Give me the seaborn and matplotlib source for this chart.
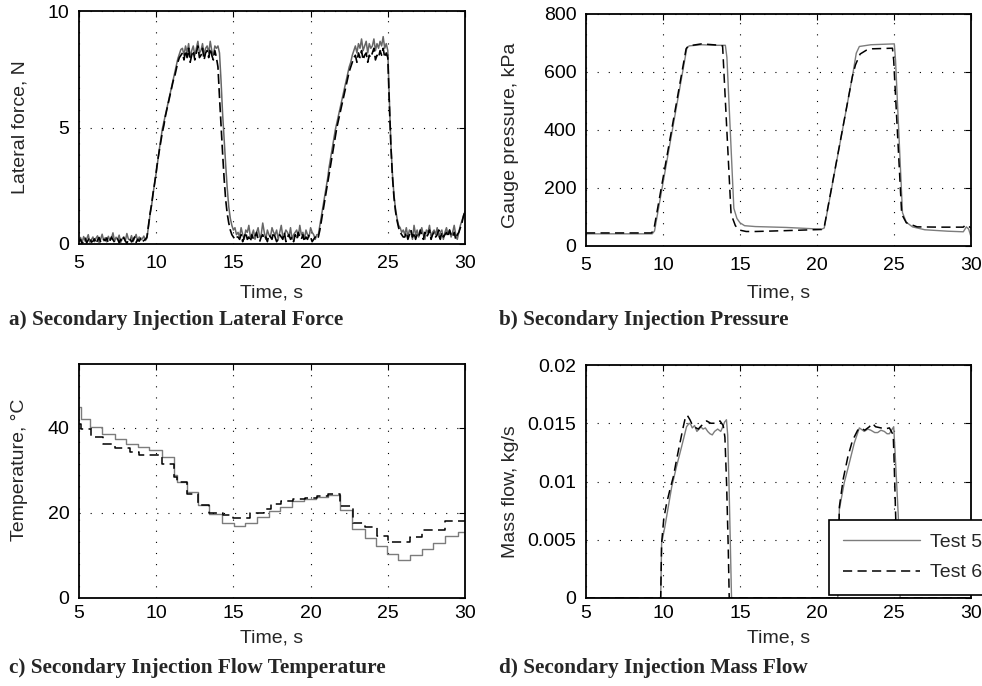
import numpy as np
import matplotlib
matplotlib.use("Agg")
import matplotlib.pyplot as plt
import seaborn as sns

# ---------------- a) Lateral force (sampled every 0.1 s, 5 s .. 30 s) ----------------
force_t0 = 5.0
force_dt = 0.1
force_test5 = [
    # 5.0 - 9.3 s baseline
    0.15, 0.28, 0.05, 0.32, 0.12, 0.22, 0.40, 0.08, 0.18, 0.30,
    0.10, 0.25, 0.35, 0.06, 0.20, 0.42, 0.14, 0.27, 0.09, 0.33,
    0.17, 0.24, 0.48, 0.11, 0.29, 0.19, 0.38, 0.07, 0.23, 0.31,
    0.13, 0.45, 0.21, 0.16, 0.36, 0.10, 0.26, 0.41, 0.12, 0.30,
    0.18, 0.22, 0.34, 0.15,
    # 9.4 - 11.6 s rise
    0.25, 0.75, 1.25, 1.65, 2.15, 2.65, 3.05, 3.55, 4.05, 4.5,
    4.95, 5.25, 5.55, 5.85, 6.15, 6.45, 6.75, 7.05, 7.35, 7.65,
    7.95, 8.15, 8.35,
    # 11.7 - 13.9 s plateau
    8.4, 8.1, 8.5, 8.2, 8.6, 8.0, 8.3, 8.5, 8.1, 8.4,
    8.7, 8.2, 8.3, 8.6, 8.1, 8.4, 8.5, 8.2, 8.7, 8.3,
    8.1, 8.5, 8.4,
    # 14.0 - 15.2 s fall
    8.5, 8.2, 7.0, 5.6, 4.5, 3.4, 2.4, 1.6, 1.1, 0.8, 0.6, 0.7, 0.4,
    # 15.3 - 20.4 s baseline
    0.5, 0.3, 0.7, 0.4, 0.2, 0.6, 0.5, 0.8, 0.3, 0.4,
    0.6, 0.2, 0.5, 0.7, 0.3, 0.4, 0.9, 0.5, 0.2, 0.6,
    0.4, 0.3, 0.7, 0.5, 0.4, 0.6, 0.2, 0.5, 0.8, 0.3,
    0.4, 0.6, 0.5, 0.3, 0.7, 0.2, 0.4, 0.5, 0.6, 0.3,
    0.8, 0.4, 0.5, 0.2, 0.6, 0.4, 0.3, 0.7, 0.5, 0.4,
    0.2, 0.4,
    # 20.5 - 22.8 s rise
    0.4, 0.8, 1.2, 1.6, 2.0, 2.4, 2.8, 3.3, 3.7, 4.1,
    4.5, 4.9, 5.2, 5.5, 5.8, 6.1, 6.4, 6.7, 7.0, 7.3,
    7.6, 7.8, 8.1, 8.3,
    # 22.9 - 25.0 s plateau
    8.5, 8.2, 8.6, 8.4, 8.8, 8.3, 8.5, 8.7, 8.2, 8.6,
    8.4, 8.5, 8.8, 8.3, 8.6, 8.4, 8.7, 8.5, 8.9, 8.4,
    8.6, 8.3,
    # 25.1 - 26.0 s fall
    6.2, 4.3, 3.0, 2.1, 1.5, 1.1, 0.8, 0.7, 0.5, 0.6,
    # 26.1 - 29.5 s baseline
    0.4, 0.7, 0.3, 0.6, 0.5, 0.2, 0.8, 0.4, 0.6, 0.3,
    0.5, 0.7, 0.4, 0.2, 0.6, 0.5, 0.8, 0.3, 0.5, 0.6,
    0.4, 0.7, 0.3, 0.5, 0.6, 0.2, 0.5, 0.7, 0.4, 0.6,
    0.3, 0.5, 0.8, 0.4, 0.2,
    # 29.6 - 30.0 s
    0.5, 0.8, 1.0, 1.2, 1.4,
]
force_test6 = [
    # 5.0 - 9.3 s baseline
    0.10, 0.20, 0.00, 0.15, 0.25, 0.05, 0.18, 0.30, 0.08, 0.12,
    0.22, 0.02, 0.16, 0.28, 0.10, 0.06, 0.20, 0.14, 0.26, 0.04,
    0.12, 0.30, 0.18, 0.08, 0.15, 0.22, 0.05, 0.20, 0.10, 0.27,
    0.13, 0.03, 0.18, 0.24, 0.09, 0.16, 0.30, 0.07, 0.20, 0.12,
    0.25, 0.10, 0.15, 0.20,
    # 9.4 - 11.6 s rise
    0.3, 0.8, 1.3, 1.7, 2.2, 2.6, 3.1, 3.6, 4.0, 4.4,
    4.8, 5.1, 5.5, 5.8, 6.1, 6.4, 6.7, 7.0, 7.2, 7.5,
    7.8, 8.0, 8.1,
    # 11.7 - 13.9 s plateau
    8.2, 7.9, 8.3, 8.0, 8.4, 7.8, 8.1, 8.3, 7.9, 8.2,
    8.5, 8.0, 8.1, 8.4, 7.9, 8.2, 8.3, 8.0, 8.4, 8.1,
    7.9, 8.3, 8.0,
    # 14.0 - 15.2 s fall
    7.6, 6.3, 5.1, 3.9, 2.8, 1.9, 1.3, 0.9, 0.6, 0.4, 0.3, 0.2, 0.3,
    # 15.3 - 20.4 s baseline
    0.3, 0.2, 0.4, 0.1, 0.3, 0.5, 0.2, 0.3, 0.1, 0.4,
    0.2, 0.3, 0.5, 0.2, 0.1, 0.3, 0.4, 0.2, 0.3, 0.1,
    0.4, 0.3, 0.2, 0.5, 0.3, 0.1, 0.2, 0.4, 0.3, 0.2,
    0.5, 0.1, 0.3, 0.4, 0.2, 0.3, 0.1, 0.4, 0.2, 0.5,
    0.3, 0.2, 0.4, 0.1, 0.3, 0.2, 0.4, 0.3, 0.1, 0.2,
    0.3, 0.2,
    # 20.5 - 22.8 s rise
    0.3, 0.6, 1.0, 1.4, 1.8, 2.2, 2.6, 3.0, 3.4, 3.8,
    4.2, 4.6, 5.0, 5.3, 5.6, 5.9, 6.2, 6.5, 6.8, 7.1,
    7.4, 7.6, 7.8, 8.0,
    # 22.9 - 25.0 s plateau
    8.1, 7.8, 8.2, 8.0, 8.3, 7.9, 8.1, 8.2, 7.8, 8.1,
    8.0, 8.2, 8.4, 7.9, 8.1, 8.0, 8.3, 8.1, 8.4, 8.0,
    8.2, 8.0,
    # 25.1 - 26.0 s fall
    6.0, 4.2, 2.9, 2.0, 1.4, 1.0, 0.7, 0.5, 0.4, 0.3,
    # 26.1 - 29.5 s baseline
    0.3, 0.5, 0.2, 0.4, 0.6, 0.3, 0.5, 0.2, 0.4, 0.3,
    0.6, 0.4, 0.2, 0.5, 0.3, 0.4, 0.6, 0.2, 0.4, 0.5,
    0.3, 0.4, 0.6, 0.2, 0.5, 0.3, 0.4, 0.5, 0.3, 0.6,
    0.4, 0.3, 0.5, 0.2, 0.4,
    # 29.6 - 30.0 s
    0.5, 0.7, 0.9, 1.2, 1.4,
]

# ---------------- b) Gauge pressure, kPa ----------------
press_t5 = [5.0, 9.3, 9.45, 11.55, 11.7, 12.5, 13.5, 14.05, 14.15, 14.6, 14.8,
            15.0, 15.3, 16.0, 18.0, 20.3, 20.47, 22.3, 22.55, 22.75, 23.5, 24.5,
            25.02, 25.1, 25.55, 25.8, 26.2, 27.0, 28.5, 29.5, 29.7, 29.85, 30.0]
press_v5 = [42, 42, 52, 683, 690, 694, 692, 692, 650, 130, 95,
            80, 70, 67, 64, 58, 62, 585, 665, 688, 694, 696,
            697, 640, 115, 82, 66, 56, 51, 49, 66, 58, 32]
press_t6 = [5.0, 9.25, 9.4, 11.5, 11.65, 12.5, 13.5, 13.87, 14.42, 14.7,
            14.96, 15.4, 16.0, 18.0, 20.3, 20.45, 22.3, 22.5, 22.8, 23.2,
            23.6, 24.9, 24.98, 25.5, 25.8, 26.5, 28.0, 29.5, 29.65, 29.85, 30.0]
press_v6 = [45, 45, 55, 680, 690, 697, 693, 690, 110, 70,
            55, 50, 50, 53, 57, 60, 585, 625, 662, 675,
            680, 682, 640, 110, 80, 66, 65, 65, 73, 68, 62]

# ---------------- c) Flow temperature, degC (stepwise record) ----------------
temp_t5 = [5.0, 5.13, 5.73, 6.5, 7.3, 8.05, 8.8, 9.55, 10.35, 11.13, 11.35,
           11.97, 12.7, 13.45, 14.26, 15.02, 15.77, 16.53, 17.28, 18.03, 18.78,
           19.6, 20.35, 21.12, 21.9, 22.66, 23.52, 24.24, 24.98, 25.68, 26.44,
           27.19, 27.95, 28.7, 29.57, 30.0]
temp_v5 = [44.8, 42.0, 40.3, 38.6, 37.3, 36.3, 35.6, 34.8, 33.2, 29.0, 27.3,
           24.8, 21.8, 19.8, 17.6, 17.0, 17.6, 19.0, 20.4, 21.5, 22.7,
           23.3, 23.7, 24.1, 20.7, 16.3, 14.0, 12.2, 10.4, 9.0, 10.2,
           11.5, 12.9, 14.6, 15.6, 15.6]
temp_t6 = [5.0, 5.1, 5.75, 6.55, 7.3, 8.3, 8.9, 10.4, 11.13, 11.35, 11.97,
           12.7, 13.45, 14.3, 15.0, 16.1, 17.0, 17.45, 18.1, 18.85, 19.64,
           20.39, 21.15, 21.93, 22.72, 23.52, 24.28, 25.0, 26.44, 27.2, 28.7, 30.0]
temp_v6 = [41.0, 39.8, 37.9, 36.3, 35.2, 34.2, 33.7, 31.6, 28.5, 27.3, 24.5,
           21.8, 19.9, 19.4, 18.8, 19.9, 21.0, 22.0, 22.8, 23.3, 23.6,
           23.9, 24.4, 21.6, 17.6, 16.6, 14.5, 13.2, 14.3, 16.1, 18.2, 18.2]

# ---------------- d) Mass flow, kg/s ----------------
flow_t5 = [5.0, 9.85, 9.91, 10.12, 10.34, 10.56, 10.88, 11.21, 11.53, 11.7,
           11.8, 11.9, 12.05, 12.2, 12.35, 12.45, 12.6, 12.75, 12.9, 13.05,
           13.2, 13.35, 13.55, 13.75, 13.85, 14.0, 14.12, 14.2, 14.3, 14.4,
           14.45, 21.35, 21.45, 21.77, 22.1, 22.42, 22.75, 23.07, 23.3, 23.5,
           23.75, 23.94, 24.15, 24.37, 24.55, 24.7, 24.98, 25.07, 25.28, 25.4, 30.0]
flow_v5 = [0.0, 0.0, 0.0047, 0.0061, 0.0078, 0.0095, 0.0113, 0.0130, 0.0147, 0.0150,
           0.0149, 0.0146, 0.0148, 0.0143, 0.0145, 0.0147, 0.0145, 0.0146, 0.0143, 0.0141,
           0.0140, 0.0143, 0.0145, 0.0143, 0.0146, 0.0151, 0.0153, 0.0140, 0.0090, 0.0030,
           0.0, 0.0, 0.0076, 0.0099, 0.0116, 0.0133, 0.0146, 0.0143, 0.0145, 0.0144,
           0.0142, 0.0142, 0.0144, 0.0143, 0.0141, 0.0141, 0.0147, 0.0125, 0.0070, 0.0, 0.0]
flow_t6 = [5.0, 9.85, 9.91, 10.05, 10.23, 10.45, 10.67, 10.9, 11.1, 11.3,
           11.42, 11.57, 11.75, 11.96, 12.15, 12.29, 12.5, 12.7, 12.83, 13.1,
           13.48, 13.7, 13.91, 14.02, 14.13, 14.24, 14.3, 21.35, 21.45, 21.7,
           22.0, 22.3, 22.64, 22.85, 23.1, 23.4, 23.6, 23.8, 24.15, 24.4,
           24.7, 24.95, 25.0, 25.13, 25.3, 30.0]
flow_v6 = [0.0, 0.0, 0.0047, 0.0068, 0.0081, 0.0093, 0.0104, 0.0120, 0.0133, 0.0146,
           0.0153, 0.0157, 0.0153, 0.0147, 0.0146, 0.0145, 0.0148, 0.0150, 0.0152, 0.0150,
           0.0150, 0.0152, 0.0148, 0.0138, 0.0098, 0.0041, 0.0, 0.0, 0.0078, 0.0102,
           0.0121, 0.0135, 0.0144, 0.0146, 0.0144, 0.0147, 0.0150, 0.0147, 0.0146, 0.0145,
           0.0146, 0.0140, 0.0121, 0.0060, 0.0, 0.0]

series_labels = ["Test 5", "Test 6"]
time_ticks = [5, 10, 15, 20, 25, 30]

# ---------------- styling ----------------
sns.set_style("white")
plt.rcParams["font.family"] = ["Liberation Sans", "DejaVu Sans"]
plt.rcParams["font.size"] = 14

GRAY = "#7c7c7c"
DARK_GRAY = "#666666"
DASHED = (0, (6, 3.5))
NOISY_DASHED = (0, (6, 2.5))
TICK_FS = 14
CAPTION_FONT = dict(family=["Liberation Serif", "DejaVu Serif"], weight="bold", size=15.3)

fig = plt.figure(figsize=(9.82, 6.86), dpi=100)
W, H = 982.0, 686.0


def make_axes(left, top, right, bottom):
    return fig.add_axes([left / W, 1 - bottom / H, (right - left) / W, (bottom - top) / H])


def style_axes(ax, ylim, yticks, ytick_labels, ylabel, xpad, ylabel_xy, xlabel_y):
    ax.set_xlim(5, 30)
    ax.set_xticks(time_ticks)
    ax.set_xticklabels([str(v) for v in time_ticks])
    ax.set_ylim(*ylim)
    ax.set_yticks(yticks)
    ax.set_yticklabels(ytick_labels)
    ax.grid(True, color="black", linestyle=(0, (1, 9)), linewidth=0.8)
    ax.set_axisbelow(True)
    ax.set_xlabel("Time, s", fontsize=TICK_FS)
    ax.set_ylabel(ylabel, fontsize=TICK_FS)
    ax.xaxis.set_label_coords(0.5, xlabel_y)
    ax.xaxis.label.set_verticalalignment("center")
    ax.yaxis.set_label_coords(*ylabel_xy)
    ax.yaxis.label.set_verticalalignment("center")
    ax.tick_params(direction="in", length=4, width=0.8, top=True, right=True,
                   labelsize=TICK_FS, colors="black")
    ax.tick_params(axis="x", pad=xpad)
    ax.tick_params(axis="y", pad=7)
    for sp in ax.spines.values():
        sp.set_visible(True)
        sp.set_linewidth(1.3)
        sp.set_color("black")


# a) lateral force
ax_a = make_axes(79, 11, 465, 244)
force_time = force_t0 + force_dt * np.arange(len(force_test5))
sns.lineplot(x=force_time, y=force_test5, ax=ax_a, color=DARK_GRAY, linewidth=1.1,
             estimator=None, sort=False, legend=False)
sns.lineplot(x=force_time, y=force_test6, ax=ax_a, color="black", linewidth=1.2,
             linestyle=NOISY_DASHED, estimator=None, sort=False, legend=False)
style_axes(ax_a, (0, 10), [0, 5, 10], ["0", "5", "10"], "Lateral force, N",
           xpad=8, ylabel_xy=(-0.153, 0.5), xlabel_y=-0.21)

# b) gauge pressure
ax_b = make_axes(586, 14, 971, 246)
sns.lineplot(x=press_t5, y=press_v5, ax=ax_b, color=GRAY, linewidth=1.0,
             estimator=None, sort=False, legend=False)
sns.lineplot(x=press_t6, y=press_v6, ax=ax_b, color="black", linewidth=1.1,
             linestyle=DASHED, estimator=None, sort=False, legend=False)
style_axes(ax_b, (0, 800), [0, 200, 400, 600, 800],
           ["0", "200", "400", "600", "800"], "Gauge pressure, kPa",
           xpad=8, ylabel_xy=(-0.195, 0.478), xlabel_y=-0.203)

# c) flow temperature
ax_c = make_axes(79, 364, 465, 598)
sns.lineplot(x=temp_t5, y=temp_v5, ax=ax_c, color=GRAY, linewidth=1.0,
             drawstyle="steps-post", estimator=None, sort=False, legend=False)
sns.lineplot(x=temp_t6, y=temp_v6, ax=ax_c, color="black", linewidth=1.1,
             linestyle=DASHED, drawstyle="steps-post", estimator=None, sort=False, legend=False)
style_axes(ax_c, (0, 55), [0, 20, 40], ["0", "20", "40"], "Temperature, °C",
           xpad=5, ylabel_xy=(-0.153, 0.547), xlabel_y=-0.171)

# d) mass flow
ax_d = make_axes(586, 365, 971, 598)
sns.lineplot(x=flow_t5, y=flow_v5, ax=ax_d, color=GRAY, linewidth=1.0,
             estimator=None, sort=False, legend=False, label=series_labels[0])
sns.lineplot(x=flow_t6, y=flow_v6, ax=ax_d, color="black", linewidth=1.1,
             linestyle=DASHED, estimator=None, sort=False, legend=False, label=series_labels[1])
style_axes(ax_d, (0, 0.02), [0, 0.005, 0.01, 0.015, 0.02],
           ["0", "0.005", "0.01", "0.015", "0.02"], "Mass flow, kg/s",
           xpad=5, ylabel_xy=(-0.195, 0.455), xlabel_y=-0.171)

handles = ax_d.get_lines()[:2]
leg = ax_d.legend(handles, series_labels, loc="lower left",
                  bbox_to_anchor=(829 / W, 1 - 595 / H), bbox_transform=fig.transFigure,
                  fontsize=TICK_FS, frameon=True, fancybox=False, framealpha=1.0,
                  edgecolor="black", handlelength=4.0, handletextpad=0.5,
                  borderpad=0.7, labelspacing=0.65, borderaxespad=0)
leg.get_frame().set_linewidth(1.2)

# panel captions
fig.text(9 / W, 1 - 320 / H, "a) Secondary Injection Lateral Force", va="center", ha="left", **CAPTION_FONT)
fig.text(499 / W, 1 - 320 / H, "b) Secondary Injection Pressure", va="center", ha="left", **CAPTION_FONT)
fig.text(9 / W, 1 - 668 / H, "c) Secondary Injection Flow Temperature", va="center", ha="left", **CAPTION_FONT)
fig.text(499 / W, 1 - 668 / H, "d) Secondary Injection Mass Flow", va="center", ha="left", **CAPTION_FONT)

fig.savefig("out.png", dpi=100)
